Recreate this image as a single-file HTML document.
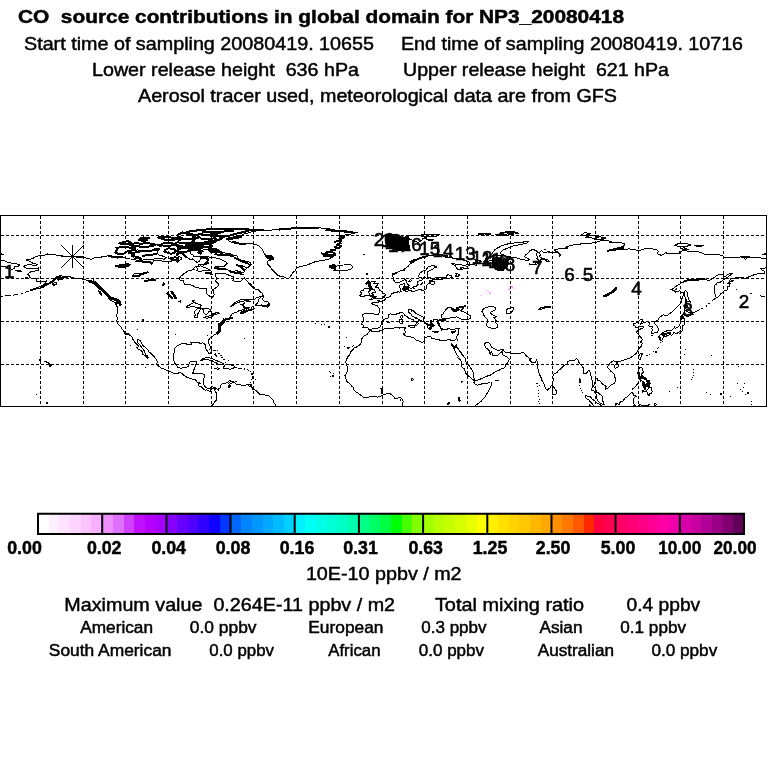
<!DOCTYPE html>
<html><head><meta charset="utf-8"><title>CO source contributions</title>
<style>
html,body{margin:0;padding:0;background:#fff;}
body{width:768px;height:768px;overflow:hidden;font-family:"Liberation Sans",sans-serif;}
svg{display:block;position:absolute;left:0;top:0;will-change:transform;}
text{font-family:"Liberation Sans",sans-serif;fill:#000;white-space:pre;stroke:#000;stroke-width:0.45px;}
.t1{font-size:17.6px;font-weight:bold;}
.r18{font-size:17.9px;}
.r15{font-size:15.6px;}
.b15{font-size:17.8px;font-weight:bold;}
.ml{font-size:17.6px;stroke-width:0.55px;}
</style></head><body>
<svg width="768" height="768" viewBox="0 0 768 768">
<rect width="768" height="768" fill="#fff"/>
<g id="titles">
<text x="18" y="23" class="t1" textLength="606" lengthAdjust="spacingAndGlyphs" xml:space="preserve">CO  source contributions in global domain for NP3_20080418</text>
<text x="24" y="50" class="r18" textLength="350" lengthAdjust="spacingAndGlyphs">Start time of sampling 20080419. 10655</text>
<text x="401" y="50" class="r18" textLength="342" lengthAdjust="spacingAndGlyphs">End time of sampling 20080419. 10716</text>
<text x="92" y="76" class="r18" textLength="267" lengthAdjust="spacingAndGlyphs" xml:space="preserve">Lower release height  636 hPa</text>
<text x="403" y="76" class="r18" textLength="266" lengthAdjust="spacingAndGlyphs" xml:space="preserve">Upper release height  621 hPa</text>
<text x="138" y="102" class="r18" textLength="479" lengthAdjust="spacingAndGlyphs">Aerosol tracer used, meteorological data are from GFS</text>
</g>
<defs><clipPath id="mc"><rect x="0.5" y="215.5" width="766" height="190.5"/></clipPath></defs>
<g id="map">
<g stroke="#000" stroke-width="1" stroke-dasharray="3 2" shape-rendering="crispEdges" fill="none">
<line x1="40.5" y1="216" x2="40.5" y2="406"/>
<line x1="83.5" y1="216" x2="83.5" y2="406"/>
<line x1="125.5" y1="216" x2="125.5" y2="406"/>
<line x1="168.5" y1="216" x2="168.5" y2="406"/>
<line x1="211.5" y1="216" x2="211.5" y2="406"/>
<line x1="253.5" y1="216" x2="253.5" y2="406"/>
<line x1="296.5" y1="216" x2="296.5" y2="406"/>
<line x1="339.5" y1="216" x2="339.5" y2="406"/>
<line x1="382.5" y1="216" x2="382.5" y2="406"/>
<line x1="424.5" y1="216" x2="424.5" y2="406"/>
<line x1="467.5" y1="216" x2="467.5" y2="406"/>
<line x1="510.5" y1="216" x2="510.5" y2="406"/>
<line x1="552.5" y1="216" x2="552.5" y2="406"/>
<line x1="595.5" y1="216" x2="595.5" y2="406"/>
<line x1="638.5" y1="216" x2="638.5" y2="406"/>
<line x1="680.5" y1="216" x2="680.5" y2="406"/>
<line x1="723.5" y1="216" x2="723.5" y2="406"/>
<line x1="1" y1="364.5" x2="766" y2="364.5"/>
<line x1="1" y1="321.5" x2="766" y2="321.5"/>
<line x1="1" y1="278.5" x2="766" y2="278.5"/>
<line x1="1" y1="235.5" x2="766" y2="235.5"/>
</g>
<g clip-path="url(#mc)">
<path d="M49.1 364.1L51.2 364.7L51.2 366.0L49.5 366.2ZM603.3 296.7L605.6 296.9L609.3 294.5L613.5 292.4L616.5 289.1L616.3 287.2L614.0 289.3L611.2 292.1L607.1 294.1L603.3 296.2ZM386.0 234.5L393.0 234.0L398.0 237.0L408.5 238.0L409.5 250.5L398.0 251.0L391.0 248.0L386.0 245.5ZM492.0 258.5L498.0 257.5L503.0 260.0L505.0 262.0L505.0 268.0L503.0 270.5L497.0 270.0L492.0 266.5ZM118.5 266.9L123.8 267.4L128.1 266.1L130.4 264.4L127.0 263.5L122.7 264.8L119.5 265.0L115.7 266.1ZM402.9 289.1L403.8 287.6L405.5 286.5L408.5 286.8L409.1 288.1L408.0 289.6L405.5 290.0L403.3 290.0Z" fill="#000" stroke="#000" stroke-width="1" stroke-linejoin="round" shape-rendering="crispEdges"/>
<path d="M211.1 408.7L211.3 405.9L213.4 404.4L214.5 402.2L216.6 400.1L217.0 397.9L216.6 395.8L216.8 393.6L215.8 392.1L214.7 390.4L215.1 389.5L213.8 388.4L212.3 388.3L210.9 389.7L210.4 391.9L209.1 391.2L207.7 390.6L206.6 389.9L205.1 390.2L204.2 389.5L203.4 389.3L202.3 387.4L201.3 386.9L200.4 386.9L198.9 385.8L198.9 384.1L197.4 382.4L195.7 380.0L195.1 379.2L193.1 379.2L190.4 378.5L187.8 377.7L185.2 376.4L182.5 374.0L180.3 372.7L178.8 372.9L176.1 373.8L173.3 373.1L170.7 371.8L168.6 371.0L165.4 369.7L163.9 368.8L161.1 368.0L159.0 366.5L156.9 364.7L156.4 363.7L157.3 363.0L157.3 361.3L156.2 359.1L154.7 357.4L152.6 355.0L150.9 353.3L149.0 352.2L148.5 350.3L146.6 348.8L145.3 347.5L142.8 345.3L141.3 343.2L140.6 340.8L138.7 339.7L137.0 339.1L137.2 340.8L137.4 342.5L139.6 344.5L140.9 346.2L142.4 348.4L144.1 350.5L144.7 352.7L146.0 354.8L146.6 355.5L147.7 356.1L148.5 357.6L147.5 358.3L146.6 357.0L144.1 355.0L142.6 354.2L142.6 352.0L140.4 350.1L138.1 349.2L136.6 347.7L138.3 346.9L138.3 345.8L136.6 344.1L134.9 342.3L134.2 341.0L133.0 339.5L132.1 337.6L131.7 336.3L129.3 334.8L129.1 334.4L127.4 333.9L124.9 333.3L124.4 331.8L121.9 329.0L121.7 327.9L120.6 326.8L120.6 326.2L119.5 325.7L118.0 323.8L117.8 321.9L116.5 320.6L117.2 319.3L117.0 317.1L116.3 315.4L117.2 313.5L117.4 310.7L117.6 308.1L117.2 307.0L115.9 303.3L118.5 304.0L120.2 304.0L120.8 305.7L121.0 304.2L119.9 302.1L119.1 301.4L117.4 300.5L115.7 299.9L114.2 299.0L111.0 298.2L109.3 296.7L109.1 294.9L107.1 293.0L104.6 291.3L103.7 290.0L102.4 288.5L100.3 287.0L99.2 285.3L97.1 283.3L95.0 282.0L93.3 279.9L92.8 281.4L90.7 282.0L87.7 280.7L83.9 279.4L81.1 278.6L77.9 278.4L74.7 278.4L72.6 277.5L71.1 277.3L69.4 276.2L66.2 276.2L65.5 277.7L63.2 278.1L62.8 279.0L58.1 280.1L58.9 279.2L58.1 277.7L59.1 276.9L61.9 275.8L60.4 275.6L58.3 276.6L56.4 277.9L54.9 279.4L52.9 280.3L54.0 281.4L52.5 282.5L50.2 283.5L47.8 284.8L45.3 285.9L43.3 287.2L39.5 288.1L36.7 288.9L33.7 289.6L30.3 290.2L34.2 288.7L37.4 287.4L39.5 287.0L42.7 285.3L44.8 283.7L45.9 282.0L47.0 280.9L44.8 281.4L43.1 281.8L41.0 280.9L38.4 281.4L36.1 281.4L36.7 280.3L36.3 278.8L35.2 278.4L32.0 278.6L29.9 277.3L29.5 275.8L27.8 274.9L28.6 273.4L30.3 272.5L30.3 271.7L33.1 271.5L35.7 270.8L38.4 270.6L38.9 269.3L38.0 268.7L38.4 267.8L35.2 268.9L32.0 268.5L29.0 268.7L26.7 268.2L23.3 266.3L26.7 265.0L31.0 264.4L32.5 265.2L36.7 265.2L37.4 264.4L35.0 263.5L32.7 263.1L31.0 261.8L27.8 260.5L26.0 260.4L27.3 259.2L31.0 259.0L33.7 257.9L36.3 256.4L40.6 255.5L44.8 255.1L47.8 253.9L51.2 254.5L55.5 254.9L57.6 255.5L60.8 255.7L65.1 256.2L70.4 256.4L74.7 256.8L81.1 257.7L85.4 257.7L89.6 259.0L91.8 259.2L93.9 258.1L96.0 257.7L99.2 257.5L102.4 256.8L105.6 256.6L108.8 255.5L111.0 256.4L113.1 257.7L115.2 256.4L116.3 256.8L117.4 258.1L120.6 257.3L124.9 257.9L130.2 259.0L134.5 259.2L136.6 260.3L138.7 260.5L136.6 261.3L140.9 261.8L147.3 261.3L150.5 262.0L151.5 264.4L153.0 262.2L153.7 260.7L157.9 260.1L162.2 261.1L165.4 261.8L170.7 261.6L172.9 260.1L176.1 260.7L177.1 262.4L178.6 260.7L181.4 259.4L181.4 257.9L177.1 255.7L176.1 254.0L179.3 252.7L180.3 252.5L183.5 253.6L185.7 255.7L186.7 257.5L188.9 258.5L190.4 259.8L193.1 258.8L194.2 260.1L197.0 262.4L199.5 261.1L200.6 259.0L200.0 257.3L202.7 257.0L207.0 257.3L208.5 258.5L207.4 260.1L207.0 261.6L208.5 262.2L208.1 263.3L204.9 264.8L201.7 265.0L198.5 264.4L198.5 265.4L197.4 266.5L195.3 266.9L193.1 268.7L194.2 269.7L189.9 270.2L188.2 271.0L185.7 272.5L183.5 274.1L181.4 275.8L179.9 277.7L179.7 279.4L181.0 280.9L183.5 280.9L184.2 283.3L185.0 284.8L188.2 284.4L192.1 285.3L195.3 287.0L199.5 288.1L202.7 288.5L206.4 288.9L206.6 291.3L206.4 293.4L208.5 295.2L210.2 296.9L212.3 297.3L213.8 296.0L214.3 294.3L213.4 292.4L213.4 290.6L212.1 289.8L214.5 288.7L217.3 287.0L218.5 284.8L217.7 282.7L214.9 280.9L216.6 279.2L216.0 277.1L215.5 275.1L216.0 273.2L219.8 273.4L223.0 273.6L226.2 274.1L228.4 274.9L230.5 276.0L233.0 276.4L233.7 278.4L232.6 280.5L234.1 280.9L236.2 281.8L239.0 281.8L241.2 280.9L242.2 279.4L244.1 277.7L245.0 279.0L246.9 280.9L249.1 283.1L250.8 285.5L252.9 287.4L255.0 288.9L258.2 289.8L259.7 291.1L261.0 292.4L262.9 293.9L263.1 295.6L261.0 296.7L257.2 297.3L255.0 299.0L250.8 299.7L246.5 299.3L242.2 299.5L239.2 300.3L236.9 301.6L234.8 302.9L233.0 304.2L231.6 305.7L230.1 306.8L232.0 306.1L234.1 304.4L236.9 302.9L240.1 301.8L243.3 301.6L244.8 302.5L244.4 303.6L242.2 304.2L240.3 304.2L241.8 305.1L243.7 305.1L243.3 306.4L244.1 307.9L246.1 308.7L248.6 309.2L250.8 309.2L251.8 307.4L252.9 306.4L253.3 307.9L254.2 308.7L251.8 310.0L248.6 310.9L246.3 311.5L244.4 312.8L242.2 313.9L240.9 313.3L241.2 311.7L243.3 310.7L244.8 310.0L243.9 309.2L242.2 310.0L240.7 310.2L239.0 310.5L238.6 311.5L236.2 312.2L234.8 312.8L232.6 313.5L231.3 314.8L230.9 315.8L230.5 316.5L231.3 317.3L232.6 317.6L232.2 317.0L232.6 317.9L231.1 318.0L229.8 318.2L228.4 318.6L226.2 318.9L224.7 319.5L227.3 319.5L228.4 319.2L226.6 319.9L224.1 320.1L224.1 320.8L223.9 322.1L222.8 323.2L222.2 323.8L221.1 322.7L220.9 322.1L221.7 324.2L221.7 325.1L221.1 326.2L220.0 327.5L219.8 326.0L219.4 324.0L219.0 322.9L218.7 324.7L219.2 326.6L219.2 327.9L219.8 328.1L220.2 329.6L220.9 331.6L219.8 332.2L218.3 332.9L216.6 333.7L215.5 334.6L213.8 335.0L212.8 336.3L211.3 337.4L209.6 338.5L208.7 340.0L208.1 341.5L208.5 343.2L209.4 345.1L210.2 346.4L210.4 348.1L211.3 349.9L211.1 352.0L210.4 353.3L208.9 353.5L207.7 351.8L206.8 350.1L205.5 348.1L205.3 346.2L205.5 344.9L204.0 343.6L202.7 342.8L201.9 343.2L200.0 343.6L199.1 342.5L197.4 342.1L195.3 342.3L193.8 342.1L192.1 342.1L190.8 342.5L191.2 343.4L191.9 344.9L190.8 344.5L189.3 344.9L187.8 344.7L186.1 343.8L184.4 343.8L181.8 343.6L179.9 344.3L178.6 345.3L176.5 346.4L175.0 347.7L174.1 349.0L174.6 351.6L173.7 353.8L173.3 355.9L173.3 358.7L173.9 360.6L174.6 362.8L176.1 365.0L176.9 366.2L177.6 367.1L179.3 367.5L180.3 368.4L182.5 368.0L184.6 367.5L186.1 367.5L187.8 366.7L188.9 365.0L189.1 362.8L189.9 361.9L192.1 361.5L194.2 361.1L196.3 361.3L196.8 361.9L196.3 363.4L195.3 365.0L195.3 366.7L194.6 368.2L193.8 369.9L193.6 372.1L192.3 373.4L193.8 373.8L195.3 373.6L197.4 373.6L198.9 373.1L200.6 373.4L202.3 373.6L204.0 374.6L204.5 375.5L204.2 377.4L203.8 379.6L203.6 381.8L203.2 383.5L203.6 384.3L204.2 385.6L205.5 386.9L206.6 388.0L208.1 388.6L209.6 388.4L211.3 387.6L212.3 386.9L213.8 387.4L215.5 387.8L216.8 389.1L217.9 389.3L218.1 390.6L218.3 389.1L219.2 388.4L220.5 387.4L220.7 385.6L221.3 384.6L222.4 383.8L223.7 383.3L225.6 383.3L227.7 382.2L229.0 380.9L230.3 380.9L229.8 382.2L228.6 383.5L229.0 384.3L229.8 384.1L231.6 383.3L232.2 382.6L232.0 381.5L233.0 381.3L233.5 382.8L235.2 383.0L236.2 384.1L236.7 385.0L239.0 384.8L240.9 384.8L243.1 385.8L244.8 385.2L247.6 384.6L249.9 384.6L248.4 385.4L249.1 386.3L250.8 386.5L252.3 387.6L252.5 389.3L254.4 389.7L256.1 390.6L257.4 392.1L259.3 393.8L260.4 394.9L262.9 394.9L264.8 394.9L266.8 395.3L268.9 396.0L270.4 397.3L271.9 398.6L273.0 400.3L273.8 402.6L275.5 404.4L275.3 405.9L274.2 408.7M251.2 264.1L249.7 262.2L245.4 261.1L240.1 260.1L236.9 257.9L238.0 256.4L233.7 255.1L229.4 253.6L224.1 252.9L219.8 251.4L215.5 250.6L210.2 248.9L208.1 249.9L202.7 248.9L198.5 248.6L192.1 248.4L189.9 249.9L191.0 251.9L190.6 253.8L193.1 254.9L193.1 256.4L196.3 256.8L198.9 256.4L201.7 256.8L207.0 256.8L212.3 257.3L215.5 257.9L219.8 259.0L223.0 260.5L226.2 262.2L227.3 263.3L225.2 265.4L224.1 266.9L216.6 266.9L214.5 268.5L218.7 269.3L223.0 268.7L226.2 269.3L229.4 270.8L232.6 272.3L236.9 273.4L241.2 274.3L243.3 274.9L240.1 272.3L235.8 270.4L239.0 271.5L243.3 272.8L244.4 271.3L242.2 268.7L238.0 265.9L236.9 264.8L241.2 265.4L245.4 267.2L246.9 268.2L249.7 266.1L251.2 264.1ZM196.3 267.2L200.6 265.9L202.7 266.9L207.0 268.5L210.6 270.4L208.1 271.0L203.8 270.4L200.6 271.5L196.3 270.6L197.8 269.1L196.3 267.2ZM204.9 272.1L207.0 272.3L211.3 273.0L205.9 273.6L204.9 272.1ZM210.2 273.2L212.3 274.1L211.3 274.9L210.2 273.2ZM131.3 255.5L134.5 258.3L138.7 258.5L140.9 260.1L147.3 259.8L153.7 259.0L157.9 258.5L164.3 259.2L166.5 257.7L163.3 256.2L159.0 255.1L157.9 253.6L157.9 251.2L153.7 249.9L151.5 251.0L148.3 250.8L143.0 251.7L137.7 249.9L132.3 250.8L130.2 251.9L128.1 253.4L131.3 254.0L134.5 254.0L131.3 255.5ZM115.2 252.5L118.5 254.0L123.8 253.6L127.0 251.4L134.5 249.7L135.5 248.2L130.2 247.6L122.7 247.1L116.3 247.8L117.4 249.7L115.2 252.5ZM164.3 251.4L170.7 253.8L173.9 253.2L176.1 251.0L173.9 249.3L168.6 248.2L165.4 249.7L164.3 251.4ZM178.2 252.1L182.5 252.5L188.9 251.0L189.9 248.6L183.5 248.0L178.2 248.9L178.2 252.1ZM169.7 258.5L173.9 260.1L178.2 259.6L178.2 257.9L175.0 257.3L169.7 258.5ZM131.3 245.6L136.6 246.3L145.1 246.9L152.6 246.1L155.8 244.8L151.5 243.7L147.3 243.0L140.9 243.7L134.5 243.0L131.3 245.6ZM160.1 245.2L167.5 246.1L173.9 245.0L171.8 242.6L164.3 242.6L160.1 245.2ZM119.5 243.5L127.0 244.3L131.3 243.0L128.1 241.1L122.7 242.2L119.5 243.5ZM176.1 245.6L181.4 246.9L186.7 246.7L194.2 247.1L202.7 247.1L210.2 246.9L212.3 245.6L209.1 244.5L202.7 244.3L194.2 244.8L189.9 243.9L185.7 242.8L177.1 242.4L175.0 243.9L176.1 245.6ZM189.9 243.0L198.5 243.0L209.1 243.2L215.5 242.2L212.3 240.9L218.7 239.8L222.0 238.3L219.8 236.8L228.4 235.9L232.6 234.6L239.0 233.1L244.4 231.8L249.7 230.3L247.6 229.0L236.9 228.8L222.0 228.6L211.3 229.0L198.5 230.3L189.9 231.2L186.7 232.5L192.1 234.2L198.5 235.9L198.5 237.6L193.1 239.2L194.2 240.7L189.9 243.0ZM177.1 235.3L183.5 239.2L189.9 238.9L195.3 238.1L194.2 236.1L187.8 234.0L182.5 232.5L177.1 235.3ZM157.9 237.4L166.5 240.2L173.9 239.8L178.2 238.7L170.7 237.4L164.3 236.6L157.9 237.4ZM209.1 249.3L213.4 250.8L218.7 250.4L215.5 248.9L209.1 249.3ZM288.1 278.8L283.8 276.9L278.5 275.8L275.3 273.0L272.1 269.7L270.0 266.5L267.4 263.7L267.8 261.1L273.2 259.4L273.2 257.3L265.7 256.2L265.1 254.7L263.6 252.5L262.5 249.3L259.3 246.1L256.1 244.3L249.7 243.7L243.3 243.9L236.9 243.7L232.6 242.8L229.4 241.3L227.3 239.6L226.2 238.5L232.6 237.0L241.2 235.7L243.3 234.2L249.7 232.7L251.8 231.4L264.6 230.3L275.3 229.9L286.0 229.2L296.6 228.0L311.6 227.5L324.4 228.2L335.1 229.9L330.8 231.0L343.6 232.0L356.4 232.0L357.5 232.5L350.0 234.2L343.6 235.3L344.7 237.4L341.5 239.6L341.5 241.7L337.2 243.9L340.4 245.6L338.3 247.6L334.0 249.7L331.9 251.9L335.1 253.6L335.1 255.7L328.6 256.0L332.9 256.8L330.8 258.3L326.5 259.8L320.1 260.7L313.7 262.2L309.4 264.1L304.1 265.9L299.8 266.5L296.6 268.0L295.1 270.8L292.4 273.0L290.9 275.6L289.8 277.7L288.1 278.8ZM333.6 270.2L335.3 269.1L330.8 267.8L335.1 266.7L329.7 266.3L332.9 264.6L336.5 266.3L338.7 265.2L343.6 265.0L347.4 264.4L350.8 264.8L353.0 266.9L351.1 268.9L347.9 270.0L342.5 271.0L338.7 270.8L333.6 270.2ZM255.5 305.1L257.6 302.9L259.3 298.6L260.8 296.9L263.6 296.5L262.5 299.5L264.6 301.4L267.8 301.6L268.9 303.1L269.5 305.3L267.8 307.2L266.3 305.7L264.6 306.6L262.5 305.9L259.3 305.1L255.5 305.1ZM244.4 300.1L248.6 300.8L250.3 301.8L246.5 301.4L244.4 300.1ZM244.6 306.8L247.6 307.7L249.7 307.5L248.0 308.5L244.6 306.8ZM108.0 298.2L112.0 301.0L115.2 302.7L118.7 303.6L117.4 301.4L114.2 299.5L109.9 298.0L108.0 298.2ZM98.2 290.9L99.7 293.0L102.0 295.4L100.7 292.8L101.0 291.3L98.2 290.9ZM52.3 283.7L53.8 285.3L57.0 284.0L56.6 282.0L54.4 282.7L52.3 283.7ZM15.6 270.6L18.6 271.5L21.8 271.5L19.6 270.4L15.6 270.6ZM25.0 277.9L28.4 278.8L27.8 277.5L25.0 277.9ZM30.1 290.0L32.9 290.2L33.3 289.3L30.1 290.0ZM200.8 360.4L202.7 358.7L205.3 357.8L208.5 357.6L211.3 358.3L214.5 359.6L217.3 360.9L220.5 362.2L223.7 364.0L222.0 364.7L216.2 364.8L217.3 363.2L214.5 362.4L212.3 360.9L208.7 360.0L206.6 359.4L204.5 359.8L200.8 360.4ZM223.0 368.0L225.4 364.7L229.0 364.7L232.6 365.2L236.0 367.5L232.6 368.2L230.1 369.5L227.3 368.4L223.0 368.0ZM214.9 368.2L217.7 367.9L219.4 368.8L217.7 369.3L214.9 368.2ZM238.6 368.0L241.8 368.0L241.2 368.9L238.6 368.8L238.6 368.0ZM250.1 384.6L252.0 384.3L251.8 385.8L250.1 385.8L250.1 384.6ZM215.1 353.5L216.0 355.3L216.2 356.3L214.9 354.6L215.1 353.5ZM224.1 320.1L226.6 319.9L228.4 319.2M401.8 408.7L402.3 405.4L402.9 403.3L403.1 401.1L402.3 399.2L401.0 397.9L399.7 397.9L396.9 398.1L394.8 398.3L393.1 396.2L391.6 394.2L389.3 393.8L386.3 394.0L384.6 394.5L382.0 395.5L379.9 396.4L377.7 397.3L375.6 396.6L373.5 396.4L370.3 396.6L367.1 397.7L366.0 398.1L362.8 396.8L360.7 395.1L359.0 394.0L357.5 392.7L355.3 391.7L353.8 389.5L353.6 387.8L352.8 387.1L351.1 385.4L350.0 383.9L347.9 382.2L346.4 380.9L346.1 379.0L345.7 377.0L344.7 375.9L345.9 374.2L346.8 373.1L347.2 371.0L347.9 368.8L347.4 366.2L346.8 365.6L347.2 363.9L345.6 362.8L345.7 361.3L346.8 359.1L347.9 356.6L350.0 354.4L350.4 352.5L351.3 351.2L353.2 349.4L354.3 347.9L357.5 346.6L360.2 344.5L361.3 342.8L361.1 340.4L362.2 338.2L363.9 335.9L365.8 335.2L367.5 334.1L368.8 332.2L369.4 330.5L370.7 330.3L372.4 331.8L375.6 331.6L377.7 332.0L379.9 330.7L382.0 330.3L384.1 329.0L386.3 328.8L388.4 328.3L390.5 328.1L392.7 328.5L394.8 327.9L396.9 327.7L399.1 328.1L401.2 327.5L402.9 327.3L404.0 328.1L405.5 327.7L404.6 329.2L404.6 330.7L405.5 331.8L405.0 333.3L403.6 333.9L403.6 334.6L405.0 335.2L405.9 336.1L407.6 336.7L410.2 336.7L412.3 337.4L414.4 338.0L415.1 339.5L417.2 340.4L419.3 341.0L421.5 342.1L423.0 342.3L424.5 341.0L424.7 339.3L424.7 338.0L426.4 337.2L428.3 336.7L430.7 336.9L431.5 338.0L433.2 338.7L435.4 339.1L435.8 339.7L438.6 339.7L440.7 340.4L443.5 341.0L445.8 340.4L447.7 339.7L449.9 339.7L450.9 340.2L452.8 340.6L455.0 340.2L456.0 338.7L456.7 336.9L457.1 335.9L458.0 334.4L458.6 333.1L458.4 331.1L458.6 329.6L459.3 328.5L457.8 328.8L455.8 328.3L453.9 329.6L451.4 329.8L450.3 329.0L447.5 328.1L447.1 329.4L444.5 329.6L442.4 328.5L440.5 328.5L440.3 327.0L439.6 325.7L438.1 325.1L439.4 324.0L439.0 322.9L437.7 322.5L437.9 321.3L439.0 320.6L440.7 320.8L441.8 320.6L443.9 320.6L445.8 319.9L444.1 319.3L444.3 318.7L446.7 318.9L449.0 318.6L450.9 317.6L453.1 317.1L455.2 317.1L456.9 316.9L458.6 317.8L459.7 318.6L461.6 319.1L463.9 319.3L466.7 319.3L468.4 319.1L470.6 318.2L470.8 316.7L469.7 315.2L467.4 314.1L465.0 312.4L463.1 311.7L461.6 311.1L460.3 310.2L462.0 309.8L463.1 308.5L463.7 307.0L465.7 306.1L463.5 306.1L461.0 306.6L458.8 307.2L457.1 308.1L456.7 309.4L459.7 309.8L457.8 310.5L455.6 311.5L453.7 312.0L453.5 310.7L451.4 309.8L453.5 308.5L452.0 308.3L450.1 307.2L448.2 307.2L446.4 308.9L445.4 310.0L445.2 311.1L443.2 312.4L443.0 314.1L441.5 314.5L441.1 316.1L441.8 317.1L442.2 318.2L443.9 318.7L443.7 319.3L441.8 319.3L440.7 319.4L439.4 320.1L437.9 321.2L439.2 320.0L437.5 320.1L437.3 319.6L435.4 319.5L434.1 319.5L433.2 319.9L433.9 321.2L432.6 321.4L431.9 320.9L431.1 320.4L430.2 320.8L430.7 322.1L431.5 323.2L430.7 323.8L432.1 324.5L433.3 326.5L432.4 326.0L431.1 326.0L431.5 327.0L430.7 326.8L431.3 329.0L430.0 329.0L429.2 327.9L428.3 328.3L427.5 326.6L427.7 325.4L427.0 325.1L426.4 323.8L425.1 322.3L424.5 321.9L423.4 320.6L423.4 318.6L423.6 317.6L422.3 316.5L420.6 315.7L418.7 314.8L417.0 313.9L415.1 312.8L414.4 312.6L413.8 310.9L412.7 310.0L411.7 311.1L410.8 309.6L411.4 309.3L410.0 309.2L408.2 309.8L408.5 310.9L408.2 312.2L408.9 312.7L410.8 313.7L411.9 315.8L413.6 316.9L416.6 317.3L415.9 318.2L418.1 319.1L420.4 320.1L421.5 321.2L421.2 321.9L420.2 321.0L418.7 320.4L417.4 321.4L417.2 322.3L418.5 323.6L417.4 324.2L416.4 325.9L415.4 325.5L415.7 324.5L416.6 323.2L415.5 321.4L414.0 321.0L413.6 320.0L412.3 319.7L411.0 318.9L409.1 318.4L408.0 317.6L406.8 316.5L404.4 315.2L404.0 313.9L402.9 312.7L401.0 312.0L399.5 313.0L397.6 313.5L394.8 314.8L393.3 314.3L392.0 314.1L390.5 313.9L388.8 314.5L388.4 316.1L389.0 316.5L388.6 317.6L386.7 318.4L384.6 319.1L383.7 319.9L382.0 321.4L381.4 322.5L382.4 324.1L380.9 325.1L380.5 326.6L378.6 327.5L377.3 328.5L376.7 328.3L374.5 328.5L372.6 328.5L370.9 329.4L370.6 329.8L370.0 330.1L368.6 329.0L368.3 328.1L367.1 327.5L365.1 327.9L362.8 327.9L363.2 325.7L363.0 324.7L361.9 324.2L361.7 324.0L362.2 322.7L363.0 321.0L363.4 319.0L363.0 316.9L362.2 315.2L364.1 314.1L365.1 313.4L368.1 313.8L369.8 313.8L373.9 314.0L375.6 314.2L377.7 314.3L378.7 313.9L379.4 311.4L379.7 309.5L379.5 308.2L378.2 307.4L377.5 306.4L377.3 305.7L376.0 305.3L375.4 305.3L374.7 304.9L372.7 304.6L372.0 304.1L372.2 303.5L371.8 303.5L372.2 302.9L373.5 302.7L375.6 302.5L376.2 303.0L377.7 302.8L378.8 302.8L378.6 302.4L377.9 300.5L379.3 300.5L379.7 301.2L381.4 301.4L382.2 301.0L382.4 300.5L384.3 300.1L385.4 299.5L385.4 298.4L385.9 297.9L387.1 297.6L388.2 297.2L388.8 297.0L389.7 296.9L390.3 296.0L390.7 295.6L392.0 293.5L393.3 293.2L393.5 293.0L395.2 292.6L396.9 292.7L397.2 292.6L397.4 291.9L399.1 291.9L399.5 292.4L400.1 292.1L400.6 291.5L401.2 291.5L401.0 291.1L400.4 290.4L400.6 289.3L400.4 288.9L399.9 288.1L399.3 287.0L399.3 285.7L400.4 284.6L402.5 284.2L404.6 283.2L404.4 284.0L404.2 285.0L404.0 285.7L405.3 286.0L403.8 286.7L403.3 287.6L402.9 288.1L402.3 288.1L402.7 289.1L402.2 289.6L403.3 290.2L403.7 290.5L405.0 290.5L405.7 290.4L405.3 291.4L406.5 291.3L407.8 291.0L408.7 290.3L411.0 290.0L411.4 291.1L412.5 291.5L415.1 291.0L417.2 290.2L419.3 289.7L421.3 289.6L421.9 290.4L423.6 290.4L424.7 289.8L424.5 289.2L425.7 289.1L427.0 287.6L426.8 285.9L427.0 284.8L427.9 284.0L430.2 283.2L431.5 284.2L433.2 284.8L434.1 284.2L434.1 282.9L434.3 281.8L432.6 281.8L432.1 280.9L431.9 280.1L434.7 279.5L437.1 279.2L439.2 279.4L441.8 279.5L442.6 279.0L443.9 278.5L446.4 278.6L445.6 278.0L443.9 277.5L443.2 276.9L441.3 277.3L439.4 277.4L437.1 277.6L435.2 278.0L433.2 278.4L431.1 278.7L430.7 277.9L429.4 277.5L427.7 277.1L427.5 275.8L428.1 275.0L427.5 273.2L427.9 271.7L429.6 270.8L431.1 270.0L433.2 268.9L434.5 267.8L436.2 267.6L436.0 266.5L434.5 266.0L433.4 265.9L431.3 266.0L429.4 266.4L427.9 266.9L427.2 268.2L425.5 270.4L423.2 271.0L422.1 271.4L420.4 272.8L419.1 273.2L419.1 274.7L418.7 276.2L418.7 276.9L420.0 277.1L421.5 277.7L422.3 278.6L422.3 279.7L420.4 280.7L418.7 281.2L417.9 281.4L417.6 283.2L417.2 284.3L417.0 285.6L416.1 286.5L415.3 286.7L413.6 286.7L412.5 287.9L411.4 288.3L410.2 288.4L409.7 287.8L409.1 286.9L408.6 286.3L409.4 285.6L408.0 284.6L407.4 283.3L406.3 282.0L405.9 280.7L406.1 280.3L404.7 279.5L404.8 278.6L404.2 279.2L404.2 280.1L403.3 280.5L402.1 280.8L400.8 281.7L399.1 282.5L397.0 282.7L395.9 282.5L394.8 281.7L394.0 280.6L393.1 279.9L393.2 279.7L393.1 278.6L393.1 277.5L392.5 276.2L392.7 274.9L392.9 273.6L395.0 273.0L397.2 272.3L398.4 271.7L400.4 271.0L402.5 270.5L404.2 270.9L405.3 270.0L403.3 269.7L404.6 268.7L405.9 267.9L408.0 266.5L408.9 265.4L409.7 264.4L411.0 263.5L412.7 262.6L414.0 261.6L415.5 260.9L417.2 260.1L417.2 259.4L418.7 258.5L420.4 257.9L422.4 257.6L424.7 256.8L426.8 256.4L428.9 255.7L432.6 255.4L434.7 254.7L437.1 254.3L438.6 254.9L440.3 254.6L441.1 254.5L442.8 255.1L442.8 255.7L445.0 255.3L446.7 255.5L448.4 256.0L446.2 256.6L443.5 256.5L445.4 257.1L446.0 257.4L447.9 257.3L449.9 257.3L451.4 256.9L452.4 257.3L451.4 257.9L453.5 258.3L455.6 258.4L457.8 258.5L459.9 259.1L463.1 260.1L466.3 260.9L468.4 261.8L469.9 262.9L469.9 263.9L468.4 264.6L466.3 265.0L464.2 265.3L461.0 264.9L457.8 264.6L455.6 264.1L453.5 263.7L451.1 263.0L452.4 264.1L453.9 265.0L455.6 265.9L456.3 267.7L456.3 268.7L457.8 269.1L459.9 269.9L463.1 270.0L462.0 268.9L460.1 268.0L461.0 267.4L463.5 268.0L466.3 268.5L468.4 268.6L467.4 267.6L466.9 266.3L469.1 265.4L471.6 264.6L473.8 264.6L476.3 265.4L476.5 264.4L475.9 263.3L475.5 262.0L476.3 260.7L474.4 259.7L477.0 260.1L480.0 260.3L481.2 261.6L479.1 261.8L478.2 262.9L481.2 263.5L483.8 263.5L484.4 262.0L488.7 261.1L491.9 260.1L495.1 259.2L497.2 260.5L498.9 260.9L501.5 259.8L504.7 259.6L507.9 260.3L511.1 259.2L510.5 257.7L511.7 257.1L514.3 257.5L519.6 258.5L520.7 259.4L523.9 259.8L525.0 260.1L527.8 260.5L529.2 259.2L526.7 257.9L524.6 256.8L525.4 255.1L527.8 253.6L529.2 251.4L530.3 250.4L533.5 249.7L536.7 250.8L537.4 252.5L536.1 254.7L537.4 256.8L536.9 259.0L538.8 260.1L538.2 261.6L535.6 263.5L534.6 264.4L531.4 264.6L529.2 263.9L533.5 264.8L536.7 264.1L539.5 262.6L539.9 260.5L541.0 259.2L544.2 259.2L547.4 261.8L549.5 262.0L548.5 260.5L546.3 259.2L542.0 258.3L539.5 256.4L540.6 254.7L538.8 252.9L541.6 250.8L543.1 252.1L546.3 252.1L549.5 251.7L548.0 252.7L550.6 252.9L552.7 252.1L554.9 252.9L558.1 252.9L559.1 254.2L559.8 256.0L559.1 256.8L560.2 255.7L560.4 254.2L558.1 252.1L554.4 250.6L554.2 249.3L559.1 248.9L563.4 248.6L567.0 248.4L567.7 247.3L565.5 247.1L568.7 246.1L571.9 245.2L576.2 244.5L581.5 243.9L586.9 243.7L592.2 243.0L595.4 242.8L597.5 241.7L601.8 240.4L604.6 240.2L608.2 240.9L611.4 241.7L609.3 242.8L612.5 242.4L618.9 242.4L624.2 243.5L624.8 245.0L622.1 246.5L618.9 248.2L614.6 248.6L610.3 249.9L608.2 250.6L613.5 249.5L616.7 248.9L622.1 248.9L624.2 249.5L628.5 248.9L633.8 249.3L635.9 250.1L640.2 250.4L644.5 248.9L646.6 248.9L650.9 248.4L654.1 249.3L657.3 250.1L658.4 251.4L656.9 252.9L658.4 254.2L659.4 254.7L661.6 255.3L664.8 253.6L665.4 252.6L668.0 253.6L672.2 253.4L675.4 254.0L678.6 253.6L680.8 252.1L679.7 251.4L682.9 250.8L687.2 251.0L693.6 251.9L698.9 251.9L702.1 253.2L703.2 253.8L706.4 254.7L709.6 254.9L713.8 254.5L718.1 254.7L722.4 255.5L724.5 257.5L726.6 257.9L728.8 257.5L732.0 257.5L737.3 257.9L740.5 256.8L744.8 257.0L744.8 259.0L745.8 259.4L746.9 257.9L745.8 256.6L751.2 257.3L757.6 257.5L761.9 258.1L768.3 259.4M-4.3 259.2L2.1 260.1L6.4 261.6L8.6 262.6L11.8 263.1L16.0 263.5L18.2 264.4L19.9 265.2L18.2 266.3L15.0 266.5L14.3 268.9L11.8 269.1L7.5 268.0L5.3 266.7L1.1 266.5L-1.1 265.2L-4.3 267.2M768.3 267.2L764.0 268.2L760.8 268.1L760.8 269.1L763.6 270.8L764.6 272.1L764.2 273.4L760.8 273.0L755.5 274.3L750.1 276.2L745.8 278.4L740.5 277.3L736.2 277.7L734.1 278.6L730.9 278.8L729.8 280.5L729.4 282.2L727.7 283.3L730.3 283.1L729.2 284.4L729.8 286.5L727.7 286.8L727.3 288.7L727.7 289.8L724.5 290.4L723.4 292.1L720.7 293.7L719.8 295.6L716.4 298.0L715.3 296.0L714.9 293.4L714.1 290.2L714.1 287.4L714.9 284.8L716.4 284.6L717.0 283.1L719.8 282.5L723.0 280.1L726.6 277.7L727.5 277.5L730.5 274.9L733.3 273.0L729.8 273.4L727.7 274.7L724.5 276.9L723.4 274.5L721.3 274.5L717.0 275.1L716.0 276.0L712.8 278.6L711.3 279.7L708.5 280.3L703.8 279.4L700.0 279.4L697.8 279.9L693.6 279.9L688.2 279.9L684.0 281.6L680.8 283.3L677.6 285.3L674.4 287.6L672.2 289.3L670.7 289.8L672.2 290.0L674.4 290.9L675.4 292.1L677.6 291.5L679.7 290.9L681.4 292.4L683.5 292.8L683.3 293.9L683.5 295.2L682.5 296.7L681.8 299.3L681.6 302.1L679.7 304.2L677.6 306.4L675.4 308.7L672.9 311.1L670.7 313.0L668.0 315.0L665.8 315.6L663.5 314.8L662.2 315.4L660.7 316.5L659.0 318.0L658.8 319.5L656.2 321.2L654.3 321.9L654.1 323.2L655.8 324.5L657.3 326.4L658.1 327.9L658.4 330.1L658.1 331.1L657.5 332.0L655.8 332.4L654.1 332.9L652.2 333.5L651.5 333.1L651.7 332.6L652.0 330.9L652.2 329.0L651.5 328.3L652.4 327.5L652.2 326.8L651.1 326.2L649.4 326.4L648.8 325.3L649.4 324.2L649.2 322.7L648.1 322.3L647.3 321.7L645.5 322.1L643.2 322.9L641.5 323.8L640.6 324.1L641.5 322.7L642.6 320.8L642.8 319.9L641.3 319.5L640.2 319.7L639.1 321.0L637.7 321.7L635.9 323.2L633.8 323.2L633.2 323.6L633.2 324.9L634.9 325.7L635.9 326.4L635.9 327.5L637.7 327.5L639.6 326.2L641.3 326.8L643.6 327.0L643.0 328.1L640.9 328.8L639.6 329.4L638.7 329.9L637.2 331.3L636.4 332.2L636.6 332.9L638.5 333.9L639.8 336.1L641.3 337.8L642.1 339.3L641.9 340.8L640.2 341.7L640.0 342.3L641.9 343.0L642.3 343.4L641.9 344.7L641.5 346.2L640.2 347.5L638.7 349.0L637.7 350.5L637.2 351.6L636.2 353.1L635.3 354.2L634.0 355.0L632.5 356.3L631.0 357.4L628.5 358.7L626.3 359.1L625.7 359.6L624.4 359.8L623.1 360.2L621.0 360.9L618.9 361.5L617.6 361.9L617.8 363.7L616.5 363.9L616.3 361.7L615.0 361.3L613.5 360.9L612.5 361.3L611.0 362.4L609.9 363.0L609.3 364.1L608.0 366.0L607.6 367.3L609.3 369.3L610.8 371.2L611.8 372.1L612.9 372.9L614.4 374.6L615.0 377.4L615.0 377.9L615.5 380.0L615.0 382.0L614.2 383.3L612.5 384.6L610.8 385.2L609.7 386.3L608.6 387.6L606.9 388.6L605.6 389.1L605.6 387.1L606.3 386.1L605.0 385.2L603.1 384.8L602.0 383.5L601.6 382.2L600.3 381.3L599.0 380.2L597.3 380.2L597.3 378.7L596.5 378.5L595.4 379.0L595.4 380.9L595.0 382.4L594.3 384.1L593.9 385.2L593.9 387.1L594.5 387.8L595.2 387.8L595.4 389.3L596.0 390.6L596.7 392.1L598.2 392.7L599.9 394.2L601.8 395.8L602.7 397.3L602.7 399.4L602.9 401.4L603.7 402.9L604.4 404.6L603.5 404.8L602.7 404.6L601.2 403.5L600.1 402.9L598.4 401.6L598.2 401.1L597.1 399.2L596.7 397.7L596.3 396.0L596.0 394.2L595.2 393.2L594.8 392.1L593.7 390.8L593.1 390.4L591.8 390.6L591.8 389.5L592.0 387.6L592.4 386.1L592.4 383.9L592.6 381.8L592.4 380.9L591.8 379.0L591.3 377.4L590.7 375.3L590.3 373.1L590.3 372.1L589.4 371.2L588.8 370.3L587.5 371.8L585.8 373.6L584.1 373.6L583.2 372.9L583.4 371.0L583.7 368.8L582.6 366.7L581.5 365.4L580.2 364.3L579.0 362.6L578.3 361.5L577.9 359.6L576.8 358.7L575.8 359.1L574.7 360.2L573.0 360.6L570.9 360.9L569.8 360.4L568.1 361.3L567.4 362.4L567.4 363.2L567.0 363.9L565.1 365.0L563.8 365.8L563.0 366.7L561.5 368.2L559.8 369.5L557.6 371.2L557.6 372.1L556.3 372.5L555.1 373.6L553.4 374.4L552.9 376.4L553.1 378.5L553.4 379.4L553.1 381.1L552.5 382.8L552.5 385.4L551.2 385.4L550.4 387.1L551.0 387.6L549.3 388.2L548.9 388.6L548.0 389.7L547.5 390.2L546.1 389.3L545.3 387.6L544.6 386.2L543.8 383.5L542.5 381.3L541.6 379.8L541.0 377.4L540.1 375.7L539.5 374.2L538.6 372.1L538.4 371.0L537.8 368.4L537.4 366.8L537.1 365.0L537.4 363.4L537.6 362.2L536.9 360.9L536.9 359.6L536.1 360.2L535.9 361.9L534.6 362.6L533.5 363.0L532.2 362.6L530.5 361.1L529.2 359.6L530.7 359.1L532.0 358.3L530.0 358.5L528.4 357.4L527.5 356.6L526.3 356.1L525.6 355.0L525.0 354.2L524.3 353.3L523.9 352.9L521.8 352.9L519.9 353.3L517.5 353.3L514.9 353.5L513.2 353.5L511.3 353.1L509.0 352.9L506.8 352.5L505.3 352.3L504.3 351.8L503.6 350.1L503.2 349.2L502.1 349.0L500.7 349.9L498.9 350.5L497.2 350.1L495.5 349.4L494.2 348.6L491.9 347.6L490.4 345.2L490.0 344.1L489.1 343.0L487.8 342.8L486.6 342.1L485.7 343.0L484.4 343.2L484.2 344.3L484.6 345.1L485.3 346.2L486.1 347.9L487.8 349.4L489.1 350.7L489.1 352.5L490.4 354.2L490.4 352.7L491.3 351.4L492.1 353.1L492.1 354.6L492.1 355.5L494.0 355.5L496.2 355.7L498.1 354.8L500.0 353.1L501.5 352.0L502.4 350.8L502.4 352.5L502.3 353.5L503.0 355.0L507.1 356.8L508.5 358.7L509.6 359.1L508.5 361.5L507.3 363.2L506.2 363.7L505.1 365.2L505.3 366.9L502.8 368.6L500.4 369.3L499.8 369.9L497.4 371.0L495.3 371.8L493.4 373.1L490.8 374.9L487.6 375.9L486.8 376.4L484.4 377.4L481.2 378.7L478.0 380.0L475.9 380.5L474.8 380.2L474.2 379.0L473.8 376.4L473.5 375.7L473.1 373.8L473.1 372.3L472.7 371.2L471.6 369.3L470.6 367.8L469.5 366.2L468.4 364.7L466.9 363.2L465.5 361.3L465.2 359.6L465.0 358.1L463.1 355.7L461.6 354.0L461.0 352.5L459.7 351.2L458.4 349.2L457.3 347.5L456.3 347.1L456.5 345.6L456.7 344.1L456.0 345.3L455.4 347.1L455.1 347.8L453.9 346.6L452.8 345.3L451.8 343.8L451.5 343.1L451.1 344.1L451.8 345.3L452.8 346.9L453.7 347.9L454.2 349.0L454.6 350.1L455.2 351.4L456.5 353.8L457.5 355.5L458.2 356.1L457.8 357.4L458.0 358.1L459.3 358.9L460.7 360.2L461.4 362.2L461.4 364.1L461.4 365.4L461.8 367.1L463.1 368.2L464.2 368.8L465.0 371.0L465.7 372.5L466.2 374.0L466.9 374.6L468.0 375.7L469.5 376.8L471.0 377.9L472.3 379.0L473.2 379.6L474.2 380.7L474.6 381.8L474.4 382.6L473.1 382.7L474.1 382.6L474.8 383.5L475.9 384.8L478.0 385.1L480.2 384.6L482.3 383.7L484.4 383.5L486.6 383.3L488.7 382.8L490.4 382.0L491.5 382.1L491.7 385.1L490.6 387.1L490.4 387.6L489.1 389.9L488.3 391.4L487.2 393.0L486.4 394.7L485.5 396.1L484.0 398.1L482.3 399.8L480.8 401.6L478.8 403.2L477.0 404.4L475.0 405.9L473.5 407.4L472.7 408.7M369.8 299.8L373.0 299.1L374.5 298.6L376.7 298.6L379.2 298.2L382.6 298.3L385.0 297.4L384.1 296.9L383.1 296.7L385.4 295.6L385.7 294.3L383.1 293.5L382.2 292.4L381.8 291.3L379.4 290.0L378.6 288.1L377.5 287.2L375.2 287.0L376.5 286.3L377.5 284.8L378.2 283.5L374.5 283.3L373.3 283.6L375.4 281.4L371.3 281.4L370.5 282.9L369.6 284.2L369.8 285.7L368.8 285.7L370.0 286.8L370.0 288.5L371.8 288.1L371.5 289.8L374.5 289.3L374.7 290.6L375.8 291.7L375.4 292.8L372.4 292.8L373.0 293.9L373.3 294.9L370.9 295.8L371.5 296.5L375.2 296.9L376.2 296.5L375.0 297.3L372.8 297.5L371.1 299.0L369.8 299.8ZM369.2 295.4L368.3 295.3L366.0 295.5L363.9 296.2L361.1 296.8L360.0 295.4L361.7 294.3L361.5 293.0L360.4 292.4L360.9 290.9L363.9 290.4L363.6 289.1L366.0 288.5L368.8 288.7L370.0 289.8L370.0 290.6L368.8 291.5L369.0 292.8L369.2 295.4ZM378.8 278.6L379.9 277.3L379.2 277.1L378.8 278.6ZM366.4 284.6L368.6 282.0L367.3 282.5L366.4 284.6ZM408.7 325.7L410.8 325.3L415.1 325.2L414.4 327.9L412.5 327.9L408.9 326.6L408.7 325.7ZM399.5 319.5L401.6 318.9L402.9 320.4L402.5 323.2L401.0 323.8L399.9 323.2L399.9 320.8L399.5 319.5ZM400.4 316.3L402.1 315.0L402.3 317.1L401.6 318.4L400.6 317.6L400.4 316.3ZM432.4 331.1L434.3 331.2L438.1 331.6L437.7 332.2L434.7 332.3L432.4 331.6L432.4 331.1ZM450.9 332.1L452.4 331.5L455.7 330.8L454.4 332.1L452.4 333.1L450.9 332.1ZM387.1 322.4L388.6 321.7L389.3 322.3L388.4 322.9L387.1 322.4ZM431.1 323.7L432.4 324.1L434.3 325.5L433.2 325.0L431.7 324.3L431.1 323.7ZM441.3 329.4L442.2 329.2L441.8 330.2L441.3 329.4ZM437.3 323.2L438.6 322.9L438.6 323.6L437.3 323.2ZM405.9 287.6L408.2 286.8L408.9 287.8L407.8 289.1L405.9 288.7L405.9 287.6ZM402.9 288.3L404.4 287.9L405.0 288.7L403.8 289.0L402.9 288.3ZM420.6 284.4L422.3 282.9L422.5 283.5L421.3 284.6L420.6 284.4ZM417.0 286.3L418.5 284.2L417.4 285.9L417.0 286.3ZM428.7 282.0L429.2 281.6L431.5 281.6L430.0 282.2L428.7 282.0ZM429.4 280.7L430.7 280.4L430.9 280.9L429.4 280.7ZM423.8 277.9L425.3 277.5L425.1 278.1L423.8 277.9ZM413.4 288.7L414.2 288.7L413.8 289.1L413.4 288.7ZM366.4 273.8L367.9 273.4L367.5 274.7L366.4 273.8ZM409.5 261.3L412.5 260.5L415.1 259.2L415.1 260.1L411.9 260.9L409.5 261.3ZM418.1 258.5L420.0 257.9L419.3 258.8L418.1 258.5ZM405.5 236.4L410.8 235.8L416.1 235.3L420.4 235.9L426.8 238.1L422.5 238.9L421.5 240.7L418.3 242.4L414.0 241.3L411.2 239.6L406.5 237.9L405.5 236.4ZM420.4 235.1L428.9 234.2L439.6 234.8L435.4 236.6L424.7 236.4L420.4 235.1ZM426.8 239.6L433.2 239.8L430.0 241.1L426.8 239.6ZM504.7 255.5L497.2 255.3L494.0 254.9L491.9 252.9L494.0 250.8L495.1 249.3L499.4 247.1L500.4 246.1L505.8 244.3L512.2 243.2L520.7 242.2L528.2 241.7L527.1 243.2L518.6 244.8L512.2 246.1L507.9 248.2L503.6 249.7L501.5 251.4L500.4 253.6L504.7 255.5ZM506.8 256.4L510.0 256.0L509.0 257.5L506.8 256.4ZM485.5 258.1L488.3 258.3L487.6 259.4L485.5 259.2L485.5 258.1ZM478.0 234.0L486.6 233.3L490.8 234.0L484.4 235.1L478.0 234.0ZM495.1 234.6L505.8 234.2L510.0 233.3L514.3 234.0L505.8 235.3L499.4 235.3L495.1 234.6ZM499.4 233.1L505.8 231.8L514.3 231.8L518.6 233.1L510.0 232.9L499.4 233.1ZM585.8 237.2L591.1 235.1L595.4 235.9L598.6 237.0L594.3 238.1L589.0 237.9L585.8 237.2ZM594.3 239.2L599.7 236.8L606.1 237.9L603.9 239.2L597.5 239.8L594.3 239.2ZM580.5 235.5L584.7 232.7L590.1 233.6L589.0 234.8L580.5 235.5ZM674.4 245.6L678.6 243.5L687.2 243.9L691.4 245.0L687.2 246.1L680.8 246.7L674.4 245.6ZM694.6 245.2L700.0 245.4L703.2 245.8L697.8 246.5L694.6 245.2ZM680.8 248.4L684.0 247.8L688.2 249.3L684.0 249.7L680.8 248.4ZM762.5 254.5L766.1 253.6L768.3 253.8M762.5 254.5L766.1 254.9L768.3 254.9M-4.3 253.8L0.0 253.6L3.2 254.2L0.0 254.9L-4.3 254.9M487.6 327.0L489.3 327.0L491.9 328.5L495.1 328.3L497.2 327.3L497.0 323.8L495.1 322.5L496.2 320.6L494.7 318.9L494.0 317.6L496.8 316.9L494.2 315.6L491.5 314.5L490.4 312.4L491.5 311.5L495.1 310.0L495.1 307.4L493.0 306.4L489.8 306.6L486.6 307.4L484.4 308.1L482.9 309.4L481.7 311.3L483.4 313.3L483.4 315.0L485.5 317.3L487.6 320.1L487.2 322.5L486.4 324.7L487.6 327.0ZM506.8 313.5L509.0 313.7L511.1 312.4L512.6 310.7L513.9 307.9L512.2 307.0L510.0 307.9L507.9 308.5L506.4 310.0L506.4 311.7L506.8 313.5ZM538.8 309.8L541.0 307.7L545.3 306.8L550.6 307.0L549.5 307.9L545.3 307.7L542.0 308.9L539.9 310.0L538.8 309.8ZM603.3 296.5L605.6 296.7L609.3 294.3L613.5 292.1L616.3 289.1L616.1 287.4L614.2 289.6L611.4 292.4L607.1 294.3L603.3 296.5ZM446.4 278.1L449.2 278.4L452.2 277.3L451.4 275.8L447.9 274.7L446.0 276.0L446.4 278.1ZM455.6 276.2L458.2 276.4L459.7 275.1L457.3 273.2L455.6 273.2L456.3 274.9L455.6 276.2ZM408.5 281.6L410.2 281.8L411.9 280.5L410.4 279.7L408.5 281.6ZM185.7 307.0L188.9 307.2L193.1 306.6L196.3 307.4L200.6 307.2L201.3 305.3L198.5 304.2L194.2 302.5L191.0 304.2L185.7 307.0ZM194.6 317.1L197.4 317.6L197.8 313.9L200.0 310.2L200.6 308.9L197.4 308.9L195.3 310.7L194.2 311.7L195.3 314.3L194.6 317.1ZM201.7 308.5L203.8 310.0L204.0 312.8L205.9 314.8L207.7 313.7L208.5 311.1L211.3 311.3L210.2 309.4L207.0 308.3L201.7 308.5ZM204.0 317.6L207.0 318.2L211.3 316.9L213.6 315.4L210.2 315.8L205.9 316.7L204.0 317.6ZM211.7 314.3L215.5 314.3L219.2 313.7L218.7 312.4L215.5 313.0L211.7 314.3ZM170.9 291.5L172.9 294.3L175.2 298.8L176.3 298.2L175.0 295.6L173.3 292.4L170.9 291.5ZM132.3 276.2L136.6 276.4L139.8 275.3L145.1 272.8L148.3 272.5L144.1 274.1L139.2 273.4L134.5 273.2L132.3 276.2ZM118.5 267.2L123.8 267.6L128.1 266.3L130.6 264.4L127.0 263.3L122.7 264.6L119.5 264.8L115.2 266.1L118.5 267.2ZM144.5 281.2L149.4 280.5L154.7 279.7L150.5 279.4L144.5 281.2ZM162.6 285.7L164.8 284.0L163.7 282.7L162.6 285.7ZM198.7 382.0L200.6 383.5L199.3 383.5L198.7 382.0ZM229.2 384.3L230.3 386.1L228.8 387.6L228.4 386.1L229.2 384.3ZM410.8 379.0L412.9 378.5L413.4 380.0L411.9 380.5L410.8 379.0ZM449.6 408.7L451.4 407.0L453.5 406.7L455.0 407.4L455.2 408.7M461.0 381.1L462.2 381.5L461.8 382.6L461.0 381.1ZM457.8 339.1L457.8 340.6M682.7 318.2L684.0 318.4L685.0 321.4L684.2 324.9L682.9 325.3L682.9 327.9L682.0 330.1L682.7 330.7L680.8 331.8L680.3 330.9L679.1 331.8L678.2 332.9L676.9 333.1L674.8 333.1L674.1 332.2L673.7 333.5L672.9 333.9L671.8 335.4L670.3 334.6L670.5 333.1L668.0 332.9L665.8 333.7L664.1 334.4L661.6 334.4L661.3 333.5L663.7 332.2L665.2 331.1L668.0 330.9L670.7 330.9L672.2 330.1L673.7 328.3L674.8 326.8L674.1 327.7L675.4 328.3L677.6 327.3L679.3 325.5L680.5 323.2L680.8 321.4L680.8 319.9L681.4 318.9L682.7 318.2ZM680.8 317.8L681.4 316.5L681.8 315.0L683.7 314.3L684.4 312.2L684.6 309.8L686.1 310.7L688.2 312.2L690.4 312.8L692.1 312.2L691.9 313.7L693.1 314.3L690.4 315.0L687.8 316.9L687.2 316.1L684.8 315.8L682.9 316.3L682.0 316.9L683.1 317.6L680.8 317.8ZM659.4 335.4L661.3 334.6L663.0 335.4L663.5 336.9L662.4 339.7L660.9 340.6L660.1 340.2L659.8 338.2L658.8 336.9L659.0 335.9L659.4 335.4ZM664.1 335.7L665.6 334.4L668.6 333.7L669.4 334.8L668.4 335.9L666.5 335.9L665.6 336.9L664.1 335.7ZM685.0 290.6L686.7 291.3L687.8 293.4L687.8 296.7L688.9 299.9L690.4 302.1L687.2 301.4L686.3 304.2L687.8 306.6L688.2 308.1L686.5 307.2L685.0 308.5L684.8 306.4L685.2 303.8L685.0 301.0L685.5 298.2L684.4 295.6L684.4 292.8L685.0 290.6ZM641.3 353.1L642.3 353.8L641.3 356.1L640.0 360.2L638.5 358.5L638.5 356.3L640.2 353.8L641.3 353.1ZM614.0 366.0L615.2 364.7L618.0 364.3L618.9 365.4L617.8 367.1L615.7 368.4L614.0 367.5L614.0 366.0ZM639.4 367.8L642.1 368.0L642.8 370.3L643.4 372.5L641.5 373.6L641.7 375.5L643.4 376.8L645.1 377.4L646.8 379.6L646.6 380.5L645.1 379.6L643.8 377.9L641.9 377.7L640.2 378.0L639.4 376.8L640.0 375.9L638.7 375.7L638.1 374.0L637.7 372.5L638.9 371.8L638.9 369.9L639.4 367.8ZM638.9 378.5L640.6 378.7L641.3 380.5L640.6 381.3L638.9 378.5ZM632.1 389.5L634.9 387.1L637.0 384.8L637.4 383.3L636.6 385.0L634.2 387.8L632.1 389.5ZM642.3 382.2L644.7 382.8L643.6 385.2L642.3 385.0L642.3 382.2ZM643.2 386.3L644.5 384.1L645.5 384.1L645.1 387.6L644.3 388.2L643.2 386.3ZM645.3 387.1L646.6 383.5L646.6 385.6L645.3 387.1ZM647.3 380.7L649.4 380.7L650.2 383.5L648.8 383.7L648.3 382.8L647.3 380.7ZM647.5 383.0L648.8 383.7L649.2 385.6L648.3 386.1L647.5 383.0ZM646.2 386.3L647.7 385.8L647.7 386.7L646.2 386.3ZM642.1 392.7L642.8 390.6L645.1 389.1L646.2 390.4L648.1 389.1L649.6 386.7L651.3 387.8L652.2 391.9L651.3 394.0L650.0 393.0L649.6 395.5L647.7 394.7L647.0 391.7L645.5 391.2L643.4 391.9L642.1 392.7ZM552.3 386.9L553.1 386.5L555.3 389.1L556.8 391.9L556.3 393.8L554.0 394.9L552.7 394.2L552.3 391.4L552.3 386.9ZM615.9 403.3L616.1 404.4L614.6 407.0L614.6 408.7M615.9 403.3L617.4 403.9L619.3 404.6L619.7 402.4L622.9 400.9L625.1 397.9L627.4 396.8L628.7 395.5L631.0 392.7L632.1 392.5L633.2 393.8L633.0 394.9L636.4 396.2L634.0 397.9L633.0 398.6L633.2 399.8L633.0 401.1L633.8 402.6L633.4 403.7L635.9 405.4L633.8 405.9L632.7 407.4L632.7 408.7M585.4 395.5L587.5 396.2L590.1 396.3L591.8 398.6L593.3 399.8L595.0 401.1L596.3 402.6L598.2 403.3L600.1 404.6L601.8 406.1L603.5 407.4L603.5 408.7M585.4 395.5L585.2 396.6L586.7 399.0L588.6 399.8L590.3 402.0L592.6 403.9L593.5 406.1L594.8 407.6L595.4 408.7M637.7 408.7L637.7 406.5L639.8 404.8L644.3 405.7L647.7 405.2L649.2 404.2L647.7 406.7L645.1 407.0L641.3 406.5L638.7 406.7L638.1 408.7M653.9 408.7L654.1 405.4L654.9 402.9L656.6 404.4L655.2 406.5L656.9 407.0L655.8 408.7M589.2 404.6L590.9 406.3L589.9 404.6L589.2 404.6ZM579.8 378.5L580.5 379.8L580.0 382.6L579.6 380.7L579.8 378.5ZM495.7 380.5L498.3 380.5L497.2 381.1L495.7 380.5ZM730.9 281.4L733.0 280.1L733.3 280.9L730.9 281.4ZM713.2 299.5L715.3 298.4L714.5 299.7L713.2 299.5ZM695.5 311.7L699.5 309.6L697.2 310.9L695.5 311.7ZM651.3 335.9L652.8 335.4L652.2 336.1L651.3 335.9ZM675.0 289.1L677.1 288.9L676.3 289.8L675.0 289.1ZM400.1 399.6L401.0 399.8L400.6 400.7L400.1 399.6ZM44.4 360.9L47.4 362.4L49.9 363.9M29.5 290.9L27.1 291.5L25.0 292.4M23.5 292.6L21.4 293.7M18.2 294.1L15.0 294.7L12.8 295.2M10.7 295.2L7.5 295.6L4.7 296.0M2.6 296.0L0.0 296.7M750.1 293.7L752.2 293.9M760.4 295.8L762.9 296.5L765.1 296.9M735.6 288.5L736.9 289.6M192.1 301.2L194.2 300.1L193.8 301.4L192.1 301.2ZM178.8 301.2L180.8 300.8L180.3 302.1L178.8 301.2ZM362.8 254.9L364.9 254.5M447.3 404.6L449.0 402.6M458.8 397.7L459.3 400.3L460.1 402.0M213.4 350.3L216.0 350.1M216.6 349.7L217.7 350.9M218.3 352.9L219.4 354.0M220.5 354.8L221.3 355.7M221.3 356.8L222.4 358.1M223.4 358.9L224.3 359.8M224.9 362.2L226.2 361.9M227.9 360.6L229.4 360.9M692.7 313.0L694.0 312.0M701.0 308.9L703.2 307.9M705.9 306.8L707.0 305.7M708.5 304.2L709.4 302.9M711.7 301.4L712.8 300.1M692.5 313.5L694.4 312.0M485.5 258.1L488.3 258.3M531.4 249.7L534.6 249.5M544.2 249.9L546.3 249.3M599.7 239.2L603.9 238.7M741.6 257.0L743.7 256.8" fill="none" stroke="#000" stroke-width="1" stroke-linejoin="round" shape-rendering="crispEdges"/>
<path d="M57.6 279.2L60.8 277.7L64.0 277.3L67.2 276.6M54.4 279.4L56.6 277.3L59.8 276.2M40.6 287.4L44.8 285.3L49.1 283.5L52.3 281.6M115.2 252.5L118.5 254.0L123.8 253.6L127.0 251.4L134.5 249.7L135.5 248.2L130.2 247.6L122.7 247.1L116.3 247.8L117.4 249.7L115.2 252.5ZM164.3 251.4L170.7 253.8L173.9 253.2L176.1 251.0L173.9 249.3L168.6 248.2L165.4 249.7L164.3 251.4ZM178.2 252.1L182.5 252.5L188.9 251.0L189.9 248.6L183.5 248.0L178.2 248.9L178.2 252.1ZM169.7 258.5L173.9 260.1L178.2 259.6L178.2 257.9L175.0 257.3L169.7 258.5ZM131.3 245.6L136.6 246.3L145.1 246.9L152.6 246.1L155.8 244.8L151.5 243.7L147.3 243.0L140.9 243.7L134.5 243.0L131.3 245.6ZM160.1 245.2L167.5 246.1L173.9 245.0L171.8 242.6L164.3 242.6L160.1 245.2ZM119.5 243.5L127.0 244.3L131.3 243.0L128.1 241.1L122.7 242.2L119.5 243.5ZM176.1 245.6L181.4 246.9L186.7 246.7L194.2 247.1L202.7 247.1L210.2 246.9L212.3 245.6L209.1 244.5L202.7 244.3L194.2 244.8L189.9 243.9L185.7 242.8L177.1 242.4L175.0 243.9L176.1 245.6ZM189.9 243.0L198.5 243.0L209.1 243.2L215.5 242.2L212.3 240.9L218.7 239.8L222.0 238.3L219.8 236.8L228.4 235.9L232.6 234.6L239.0 233.1L244.4 231.8L249.7 230.3L247.6 229.0L236.9 228.8L222.0 228.6L211.3 229.0L198.5 230.3L189.9 231.2L186.7 232.5L192.1 234.2L198.5 235.9L198.5 237.6L193.1 239.2L194.2 240.7L189.9 243.0ZM177.1 235.3L183.5 239.2L189.9 238.9L195.3 238.1L194.2 236.1L187.8 234.0L182.5 232.5L177.1 235.3ZM157.9 237.4L166.5 240.2L173.9 239.8L178.2 238.7L170.7 237.4L164.3 236.6L157.9 237.4ZM209.1 249.3L213.4 250.8L218.7 250.4L215.5 248.9L209.1 249.3ZM176.1 245.2L181.4 245.8L182.5 246.7L178.2 246.9L176.1 245.2ZM138.7 240.2L145.1 241.1L147.3 239.8L141.9 238.9L138.7 240.2ZM139.8 238.9L147.3 238.9L149.4 237.9L143.0 237.4L139.8 238.9ZM172.9 237.9L179.3 240.0L182.5 239.2L177.1 237.6L172.9 237.9ZM127.0 244.1L131.3 244.8L131.3 243.9L127.0 244.1ZM157.9 245.0L161.1 246.1L161.1 245.0L157.9 245.0ZM154.7 248.9L157.9 250.4L159.0 249.1L154.7 248.9ZM198.5 234.2L207.0 234.8L215.5 234.0L219.8 233.1M202.7 231.8L211.3 232.3L222.0 231.6L232.6 231.0M200.6 238.5L207.0 238.9L215.5 238.3M204.9 241.7L211.3 241.3L215.5 240.7M211.3 236.1L219.8 236.4L224.1 236.8M185.7 244.8L194.2 245.6L202.7 245.4M189.9 249.5L198.5 249.9L202.7 251.2L198.5 252.5L200.6 254.0M209.1 250.4L211.3 252.1L217.7 251.9L222.0 253.2M215.5 254.2L222.0 255.5L228.4 255.1L232.6 256.2M234.8 258.1L239.0 259.8L243.3 262.0L247.6 263.3L249.7 265.0M236.9 265.0L241.2 267.2L244.4 269.7M230.5 271.5L235.8 272.8L241.2 273.6M130.2 252.9L134.5 252.7L140.9 251.2L147.3 251.0L152.6 250.4M132.3 256.0L137.7 257.0L140.9 258.5M143.0 255.7L149.4 255.1L155.8 254.0M177.1 254.2L180.3 252.9L183.5 254.2L185.7 256.4M108.8 255.7L114.2 257.3L117.4 256.8L121.7 257.3M136.6 260.7L143.0 261.6L149.4 261.6L151.5 263.3M200.6 257.9L204.9 257.5L208.1 259.4L207.0 262.2L203.8 264.6M215.5 267.2L219.8 268.9L225.2 268.7M133.4 276.0L138.7 275.8L143.0 273.6L147.3 272.5M145.1 280.9L150.5 280.1L154.7 279.7M171.8 292.1L173.3 294.5L175.4 298.2M167.5 293.4L169.7 295.6L171.8 298.2M265.7 256.4L271.0 256.2L273.2 257.7L271.0 259.0L267.8 258.3M266.8 257.3L270.0 257.5M322.2 253.6L328.6 254.7L334.0 255.5L330.8 256.6L324.4 256.0M326.5 251.9L332.9 252.5L335.1 254.2M335.1 247.1L339.3 248.2L341.5 246.1L337.2 244.8L340.4 243.2M335.1 241.7L341.5 240.7L339.3 238.5L343.6 236.8L339.3 235.3M330.8 249.9L335.1 250.4M236.9 229.2L249.7 229.7L262.5 230.3M279.6 229.5L292.4 228.4L305.2 227.7L318.0 228.0M326.5 229.7L339.3 231.0L352.1 231.8M232.6 241.7L239.0 243.5L245.4 243.7M228.4 239.2L236.9 237.9L241.2 236.8M330.1 266.3L334.0 265.0L336.1 266.5L331.9 267.6L335.1 268.7M411.4 262.4L414.0 261.1L416.1 259.8L419.3 258.3L423.6 257.0L426.8 256.4M393.3 274.3L395.9 273.0M426.8 323.6L427.9 325.1L430.0 325.3L431.7 326.0L431.1 327.9L429.8 328.5M431.5 323.2L432.8 324.5L433.9 325.7M456.7 308.5L459.9 307.2L463.1 306.8L464.8 306.4M452.4 309.2L454.6 310.2L457.8 310.0M608.2 250.6L612.5 249.7L616.7 248.6L621.0 247.6L623.1 246.9L622.7 248.4L616.7 249.3L611.4 250.4M225.2 319.5L228.4 318.9L231.6 317.8M241.2 312.8L244.4 311.7L247.6 310.7L250.8 309.6M243.3 305.3L243.7 307.4L246.5 308.5M261.4 305.1L263.6 306.4L266.8 305.9L268.3 304.6M249.7 283.7L251.8 286.3L254.0 288.3M124.6 333.3L127.4 333.9L129.3 334.6M642.8 381.8L644.5 383.9L645.5 386.1L644.9 387.6M647.0 381.1L648.8 383.3L648.8 385.6M639.8 376.8L641.9 377.7L644.5 378.5M639.1 372.7L638.7 375.3L639.6 376.4M659.0 336.5L660.1 338.0L660.5 340.0M661.6 334.4L664.8 334.1L668.0 333.3L670.1 333.3M681.4 316.1L682.5 316.5L682.9 317.8L681.4 318.2M685.7 306.4L686.3 303.1L685.7 300.3M381.4 388.6L382.0 390.8L382.2 393.4M447.7 404.2L448.8 402.9M458.8 397.9L459.5 400.5M366.6 283.7L368.3 282.0M684.0 281.6L688.2 279.9L693.6 279.9L700.0 279.4L704.2 279.4M741.6 257.3L745.8 257.0L749.0 257.0M372.2 293.7L373.0 294.9L371.3 296.0" fill="none" stroke="#000" stroke-width="2" stroke-linejoin="round" stroke-linecap="square" shape-rendering="crispEdges"/><path d="M90.7 281.6L93.9 282.7L96.0 284.8L98.2 287.0L101.4 289.1L103.5 290.9L105.6 292.8L107.8 294.9L109.3 297.1M217.7 333.1L219.8 330.9L219.4 327.9L220.2 325.7L221.5 323.6L223.4 321.9L224.3 320.1M116.7 302.9L119.5 302.5L120.2 304.6L118.5 300.8L115.2 299.3L111.0 298.0M95.0 282.7L97.1 284.8L99.7 287.0M368.8 282.2L370.0 283.5L369.4 285.3L370.3 287.0L370.9 288.3" fill="none" stroke="#000" stroke-width="3" stroke-linejoin="round" stroke-linecap="square" shape-rendering="crispEdges"/>
<g fill="#000" shape-rendering="crispEdges"><rect x="39" y="359" width="2" height="2"/><rect x="244" y="338" width="1" height="1"/><rect x="250" y="371" width="1" height="1"/><rect x="251" y="373" width="2" height="2"/><rect x="251" y="374" width="1" height="1"/><rect x="252" y="376" width="2" height="2"/><rect x="252" y="378" width="1" height="1"/><rect x="251" y="379" width="1" height="1"/><rect x="250" y="382" width="1" height="1"/><rect x="255" y="379" width="1" height="1"/><rect x="248" y="370" width="1" height="1"/><rect x="247" y="369" width="1" height="1"/><rect x="244" y="368" width="1" height="1"/><rect x="244" y="369" width="1" height="1"/><rect x="235" y="381" width="1" height="1"/><rect x="236" y="381" width="1" height="1"/><rect x="233" y="381" width="1" height="1"/><rect x="142" y="319" width="2" height="2"/><rect x="137" y="329" width="1" height="1"/><rect x="175" y="334" width="1" height="1"/><rect x="207" y="335" width="1" height="1"/><rect x="130" y="345" width="1" height="1"/><rect x="145" y="367" width="1" height="1"/><rect x="209" y="349" width="1" height="1"/><rect x="36" y="394" width="1" height="1"/><rect x="46" y="402" width="2" height="2"/><rect x="321" y="324" width="1" height="1"/><rect x="324" y="324" width="1" height="1"/><rect x="328" y="326" width="2" height="2"/><rect x="315" y="323" width="1" height="1"/><rect x="346" y="337" width="1" height="1"/><rect x="347" y="347" width="2" height="2"/><rect x="349" y="347" width="1" height="1"/><rect x="352" y="346" width="1" height="1"/><rect x="353" y="345" width="1" height="1"/><rect x="344" y="346" width="1" height="1"/><rect x="329" y="371" width="1" height="1"/><rect x="330" y="372" width="1" height="1"/><rect x="332" y="375" width="2" height="2"/><rect x="333" y="373" width="1" height="1"/><rect x="330" y="376" width="1" height="1"/><rect x="539" y="399" width="1" height="1"/><rect x="538" y="401" width="1" height="1"/><rect x="539" y="403" width="1" height="1"/><rect x="538" y="406" width="1" height="1"/><rect x="538" y="396" width="1" height="1"/><rect x="538" y="393" width="1" height="1"/><rect x="538" y="390" width="1" height="1"/><rect x="537" y="386" width="1" height="1"/><rect x="537" y="383" width="1" height="1"/><rect x="539" y="385" width="1" height="1"/><rect x="536" y="383" width="1" height="1"/><rect x="582" y="392" width="1" height="1"/><rect x="581" y="390" width="1" height="1"/><rect x="580" y="388" width="1" height="1"/><rect x="579" y="385" width="1" height="1"/><rect x="658" y="347" width="1" height="1"/><rect x="657" y="348" width="1" height="1"/><rect x="655" y="351" width="2" height="2"/><rect x="653" y="351" width="1" height="1"/><rect x="649" y="354" width="1" height="1"/><rect x="647" y="355" width="1" height="1"/><rect x="646" y="355" width="1" height="1"/><rect x="660" y="342" width="1" height="1"/><rect x="662" y="341" width="1" height="1"/><rect x="711" y="355" width="1" height="1"/><rect x="693" y="369" width="1" height="1"/><rect x="693" y="372" width="1" height="1"/><rect x="693" y="375" width="1" height="1"/><rect x="692" y="377" width="1" height="1"/><rect x="691" y="379" width="1" height="1"/><rect x="669" y="391" width="1" height="1"/><rect x="677" y="387" width="1" height="1"/><rect x="706" y="392" width="1" height="1"/><rect x="710" y="394" width="1" height="1"/><rect x="720" y="393" width="2" height="2"/><rect x="730" y="396" width="1" height="1"/><rect x="738" y="366" width="1" height="1"/><rect x="740" y="389" width="1" height="1"/><rect x="742" y="391" width="1" height="1"/><rect x="747" y="392" width="2" height="2"/><rect x="744" y="383" width="1" height="1"/><rect x="737" y="383" width="1" height="1"/><rect x="743" y="387" width="1" height="1"/><rect x="745" y="394" width="1" height="1"/><rect x="751" y="404" width="1" height="1"/><rect x="751" y="401" width="1" height="1"/><rect x="685" y="349" width="1" height="1"/><rect x="684" y="354" width="1" height="1"/><rect x="680" y="336" width="1" height="1"/><rect x="679" y="333" width="1" height="1"/></g>
</g>
<g id="specks" shape-rendering="crispEdges">
<rect x="484" y="289" width="2" height="1" fill="#ffd8ff"/><rect x="487" y="290" width="2" height="2" fill="#ffc8ff"/>
<rect x="489" y="292" width="2" height="2" fill="#f9a8ff"/><rect x="480" y="295" width="3" height="1" fill="#ffd8ff"/>
<rect x="485" y="293" width="2" height="1" fill="#ffe4ff"/><rect x="511" y="286" width="2" height="2" fill="#f49cf8"/>
<rect x="513" y="288" width="2" height="1" fill="#ffc8ff"/><rect x="508" y="289" width="2" height="1" fill="#f088f0"/>
<rect x="509" y="290" width="1" height="1" fill="#ffd8ff"/>
</g>
<g id="star" stroke="#000" stroke-width="1" fill="none">
<path d="M72.5 245V268M61 256.5H84M61 245L84 268M84 245L61 268"/>
</g>
<g id="maplabels">
<text x="4" y="278" class="ml" textLength="10.5" lengthAdjust="spacingAndGlyphs">1</text>
<text x="738.7" y="308" class="ml" textLength="10.5" lengthAdjust="spacingAndGlyphs">2</text>
<text x="682.5" y="316" class="ml" textLength="10.5" lengthAdjust="spacingAndGlyphs">3</text>
<text x="631.3" y="295" class="ml" textLength="10.5" lengthAdjust="spacingAndGlyphs">4</text>
<text x="582.8" y="281.3" class="ml" textLength="10.5" lengthAdjust="spacingAndGlyphs">5</text>
<text x="564.2" y="280.8" class="ml" textLength="10.5" lengthAdjust="spacingAndGlyphs">6</text>
<text x="532" y="274.2" class="ml" textLength="10.5" lengthAdjust="spacingAndGlyphs">7</text>
<text x="504.8" y="271.4" class="ml" textLength="10.5" lengthAdjust="spacingAndGlyphs">8</text>
<text x="497" y="270" class="ml" textLength="10.5" lengthAdjust="spacingAndGlyphs">9</text>
<text x="488" y="268" class="ml" textLength="21" lengthAdjust="spacingAndGlyphs">10</text>
<text x="481" y="266" class="ml" textLength="21" lengthAdjust="spacingAndGlyphs">11</text>
<text x="471.4" y="263.6" class="ml" textLength="21" lengthAdjust="spacingAndGlyphs">12</text>
<text x="454.7" y="260" class="ml" textLength="21" lengthAdjust="spacingAndGlyphs">13</text>
<text x="432.5" y="257.4" class="ml" textLength="21" lengthAdjust="spacingAndGlyphs">14</text>
<text x="419.3" y="254.6" class="ml" textLength="21" lengthAdjust="spacingAndGlyphs">15</text>
<text x="400.7" y="250.5" class="ml" textLength="21" lengthAdjust="spacingAndGlyphs">16</text>
<text x="388" y="251.5" class="ml" textLength="21" lengthAdjust="spacingAndGlyphs">17</text>
<text x="384.5" y="249.3" class="ml" textLength="21" lengthAdjust="spacingAndGlyphs">18</text>
<text x="381" y="247.2" class="ml" textLength="21" lengthAdjust="spacingAndGlyphs">19</text>
<text x="373.7" y="245.8" class="ml" textLength="21" lengthAdjust="spacingAndGlyphs">20</text>
</g>
<rect x="0.5" y="215.5" width="766" height="190.5" fill="none" stroke="#000" stroke-width="1" shape-rendering="crispEdges"/>
</g>
<g id="colorbar">
<rect x="38.00" y="514" width="11.30" height="20" fill="#ffffff" shape-rendering="crispEdges"/>
<rect x="48.70" y="514" width="11.30" height="20" fill="#fff0ff" shape-rendering="crispEdges"/>
<rect x="59.39" y="514" width="11.30" height="20" fill="#ffe2ff" shape-rendering="crispEdges"/>
<rect x="70.09" y="514" width="11.30" height="20" fill="#fdd4ff" shape-rendering="crispEdges"/>
<rect x="80.79" y="514" width="11.30" height="20" fill="#fbc4ff" shape-rendering="crispEdges"/>
<rect x="91.48" y="514" width="11.30" height="20" fill="#f7b0ff" shape-rendering="crispEdges"/>
<rect x="102.18" y="514" width="11.30" height="20" fill="#ee90ff" shape-rendering="crispEdges"/>
<rect x="112.88" y="514" width="11.30" height="20" fill="#e070ff" shape-rendering="crispEdges"/>
<rect x="123.58" y="514" width="11.30" height="20" fill="#d040ff" shape-rendering="crispEdges"/>
<rect x="134.27" y="514" width="11.30" height="20" fill="#c010ff" shape-rendering="crispEdges"/>
<rect x="144.97" y="514" width="11.30" height="20" fill="#b400ff" shape-rendering="crispEdges"/>
<rect x="155.67" y="514" width="11.30" height="20" fill="#a800ff" shape-rendering="crispEdges"/>
<rect x="166.36" y="514" width="11.30" height="20" fill="#8800ff" shape-rendering="crispEdges"/>
<rect x="177.06" y="514" width="11.30" height="20" fill="#6800ff" shape-rendering="crispEdges"/>
<rect x="187.76" y="514" width="11.30" height="20" fill="#5000ff" shape-rendering="crispEdges"/>
<rect x="198.45" y="514" width="11.30" height="20" fill="#3000ff" shape-rendering="crispEdges"/>
<rect x="209.15" y="514" width="11.30" height="20" fill="#1000ff" shape-rendering="crispEdges"/>
<rect x="219.85" y="514" width="11.30" height="20" fill="#0038ff" shape-rendering="crispEdges"/>
<rect x="230.55" y="514" width="11.30" height="20" fill="#0068ff" shape-rendering="crispEdges"/>
<rect x="241.24" y="514" width="11.30" height="20" fill="#0084ff" shape-rendering="crispEdges"/>
<rect x="251.94" y="514" width="11.30" height="20" fill="#0098ff" shape-rendering="crispEdges"/>
<rect x="262.64" y="514" width="11.30" height="20" fill="#00a8ff" shape-rendering="crispEdges"/>
<rect x="273.33" y="514" width="11.30" height="20" fill="#00bcff" shape-rendering="crispEdges"/>
<rect x="284.03" y="514" width="11.30" height="20" fill="#00d0ff" shape-rendering="crispEdges"/>
<rect x="294.73" y="514" width="11.30" height="20" fill="#00f0ff" shape-rendering="crispEdges"/>
<rect x="305.42" y="514" width="11.30" height="20" fill="#00fff4" shape-rendering="crispEdges"/>
<rect x="316.12" y="514" width="11.30" height="20" fill="#00ffe4" shape-rendering="crispEdges"/>
<rect x="326.82" y="514" width="11.30" height="20" fill="#00ffd4" shape-rendering="crispEdges"/>
<rect x="337.52" y="514" width="11.30" height="20" fill="#00ffc4" shape-rendering="crispEdges"/>
<rect x="348.21" y="514" width="11.30" height="20" fill="#00ffac" shape-rendering="crispEdges"/>
<rect x="358.91" y="514" width="11.30" height="20" fill="#00ff84" shape-rendering="crispEdges"/>
<rect x="369.61" y="514" width="11.30" height="20" fill="#00ff64" shape-rendering="crispEdges"/>
<rect x="380.30" y="514" width="11.30" height="20" fill="#00ff44" shape-rendering="crispEdges"/>
<rect x="391.00" y="514" width="11.30" height="20" fill="#00ff00" shape-rendering="crispEdges"/>
<rect x="401.70" y="514" width="11.30" height="20" fill="#48ff00" shape-rendering="crispEdges"/>
<rect x="412.39" y="514" width="11.30" height="20" fill="#84ff00" shape-rendering="crispEdges"/>
<rect x="423.09" y="514" width="11.30" height="20" fill="#a4ff00" shape-rendering="crispEdges"/>
<rect x="433.79" y="514" width="11.30" height="20" fill="#b8ff00" shape-rendering="crispEdges"/>
<rect x="444.48" y="514" width="11.30" height="20" fill="#c8ff00" shape-rendering="crispEdges"/>
<rect x="455.18" y="514" width="11.30" height="20" fill="#d8ff00" shape-rendering="crispEdges"/>
<rect x="465.88" y="514" width="11.30" height="20" fill="#e8ff00" shape-rendering="crispEdges"/>
<rect x="476.58" y="514" width="11.30" height="20" fill="#ffff00" shape-rendering="crispEdges"/>
<rect x="487.27" y="514" width="11.30" height="20" fill="#fff000" shape-rendering="crispEdges"/>
<rect x="497.97" y="514" width="11.30" height="20" fill="#ffe000" shape-rendering="crispEdges"/>
<rect x="508.67" y="514" width="11.30" height="20" fill="#ffd400" shape-rendering="crispEdges"/>
<rect x="519.36" y="514" width="11.30" height="20" fill="#ffc800" shape-rendering="crispEdges"/>
<rect x="530.06" y="514" width="11.30" height="20" fill="#ffb800" shape-rendering="crispEdges"/>
<rect x="540.76" y="514" width="11.30" height="20" fill="#ffa800" shape-rendering="crispEdges"/>
<rect x="551.45" y="514" width="11.30" height="20" fill="#ff9000" shape-rendering="crispEdges"/>
<rect x="562.15" y="514" width="11.30" height="20" fill="#ff7800" shape-rendering="crispEdges"/>
<rect x="572.85" y="514" width="11.30" height="20" fill="#ff5800" shape-rendering="crispEdges"/>
<rect x="583.55" y="514" width="11.30" height="20" fill="#ff2800" shape-rendering="crispEdges"/>
<rect x="594.24" y="514" width="11.30" height="20" fill="#ff0040" shape-rendering="crispEdges"/>
<rect x="604.94" y="514" width="11.30" height="20" fill="#ff0054" shape-rendering="crispEdges"/>
<rect x="615.64" y="514" width="11.30" height="20" fill="#ff0064" shape-rendering="crispEdges"/>
<rect x="626.33" y="514" width="11.30" height="20" fill="#ff0074" shape-rendering="crispEdges"/>
<rect x="637.03" y="514" width="11.30" height="20" fill="#ff0084" shape-rendering="crispEdges"/>
<rect x="647.73" y="514" width="11.30" height="20" fill="#ff0094" shape-rendering="crispEdges"/>
<rect x="658.42" y="514" width="11.30" height="20" fill="#ff00a4" shape-rendering="crispEdges"/>
<rect x="669.12" y="514" width="11.30" height="20" fill="#f000ac" shape-rendering="crispEdges"/>
<rect x="679.82" y="514" width="11.30" height="20" fill="#d800a8" shape-rendering="crispEdges"/>
<rect x="690.52" y="514" width="11.30" height="20" fill="#c800a0" shape-rendering="crispEdges"/>
<rect x="701.21" y="514" width="11.30" height="20" fill="#b00098" shape-rendering="crispEdges"/>
<rect x="711.91" y="514" width="11.30" height="20" fill="#980088" shape-rendering="crispEdges"/>
<rect x="722.61" y="514" width="11.30" height="20" fill="#800070" shape-rendering="crispEdges"/>
<rect x="733.30" y="514" width="11.30" height="20" fill="#600058" shape-rendering="crispEdges"/>
<line x1="102.2" y1="514" x2="102.2" y2="534" stroke="#000" stroke-width="2"/>
<line x1="166.4" y1="514" x2="166.4" y2="534" stroke="#000" stroke-width="2"/>
<line x1="230.5" y1="514" x2="230.5" y2="534" stroke="#000" stroke-width="2"/>
<line x1="294.7" y1="514" x2="294.7" y2="534" stroke="#000" stroke-width="2"/>
<line x1="358.9" y1="514" x2="358.9" y2="534" stroke="#000" stroke-width="2"/>
<line x1="423.1" y1="514" x2="423.1" y2="534" stroke="#000" stroke-width="2"/>
<line x1="487.3" y1="514" x2="487.3" y2="534" stroke="#000" stroke-width="2"/>
<line x1="551.5" y1="514" x2="551.5" y2="534" stroke="#000" stroke-width="2"/>
<line x1="615.6" y1="514" x2="615.6" y2="534" stroke="#000" stroke-width="2"/>
<line x1="679.8" y1="514" x2="679.8" y2="534" stroke="#000" stroke-width="2"/>
<rect x="38" y="513.75" width="706" height="20.25" fill="none" stroke="#000" stroke-width="2"/>
<text x="24.5" y="554" text-anchor="middle" class="b15" textLength="34.6" lengthAdjust="spacingAndGlyphs">0.00</text>
<text x="104.2" y="554" text-anchor="middle" class="b15" textLength="34.6" lengthAdjust="spacingAndGlyphs">0.02</text>
<text x="168.7" y="554" text-anchor="middle" class="b15" textLength="34.6" lengthAdjust="spacingAndGlyphs">0.04</text>
<text x="233" y="554" text-anchor="middle" class="b15" textLength="34.6" lengthAdjust="spacingAndGlyphs">0.08</text>
<text x="297" y="554" text-anchor="middle" class="b15" textLength="34.6" lengthAdjust="spacingAndGlyphs">0.16</text>
<text x="360.5" y="554" text-anchor="middle" class="b15" textLength="34.6" lengthAdjust="spacingAndGlyphs">0.31</text>
<text x="425.7" y="554" text-anchor="middle" class="b15" textLength="34.6" lengthAdjust="spacingAndGlyphs">0.63</text>
<text x="490" y="554" text-anchor="middle" class="b15" textLength="34.6" lengthAdjust="spacingAndGlyphs">1.25</text>
<text x="553.1" y="554" text-anchor="middle" class="b15" textLength="34.6" lengthAdjust="spacingAndGlyphs">2.50</text>
<text x="618" y="554" text-anchor="middle" class="b15" textLength="34.6" lengthAdjust="spacingAndGlyphs">5.00</text>
<text x="679.7" y="554" text-anchor="middle" class="b15" textLength="43" lengthAdjust="spacingAndGlyphs">10.00</text>
<text x="735" y="554" text-anchor="middle" class="b15" textLength="43" lengthAdjust="spacingAndGlyphs">20.00</text>
</g>
<g id="bottom">
<text x="305.9" y="580" class="r18" textLength="155.7" lengthAdjust="spacingAndGlyphs" xml:space="preserve">10E-10 ppbv / m2</text>
<text x="64.3" y="611" class="r18" textLength="330.8" lengthAdjust="spacingAndGlyphs" xml:space="preserve">Maximum value  0.264E-11 ppbv / m2</text>
<text x="434.9" y="611" class="r18" textLength="149.2" lengthAdjust="spacingAndGlyphs" xml:space="preserve">Total mixing ratio</text>
<text x="626.5" y="611" class="r18" textLength="73.7" lengthAdjust="spacingAndGlyphs" xml:space="preserve">0.4 ppbv</text>
<text x="80.3" y="633" class="r15" textLength="72.7" lengthAdjust="spacingAndGlyphs" xml:space="preserve">American</text>
<text x="189.8" y="633" class="r15" textLength="66.7" lengthAdjust="spacingAndGlyphs" xml:space="preserve">0.0 ppbv</text>
<text x="308.3" y="633" class="r15" textLength="75.2" lengthAdjust="spacingAndGlyphs" xml:space="preserve">European</text>
<text x="421.3" y="633" class="r15" textLength="65.2" lengthAdjust="spacingAndGlyphs" xml:space="preserve">0.3 ppbv</text>
<text x="539.5" y="633" class="r15" textLength="43.0" lengthAdjust="spacingAndGlyphs" xml:space="preserve">Asian</text>
<text x="620.3" y="633" class="r15" textLength="65.7" lengthAdjust="spacingAndGlyphs" xml:space="preserve">0.1 ppbv</text>
<text x="48.8" y="656" class="r15" textLength="122.7" lengthAdjust="spacingAndGlyphs" xml:space="preserve">South American</text>
<text x="209.3" y="656" class="r15" textLength="64.7" lengthAdjust="spacingAndGlyphs" xml:space="preserve">0.0 ppbv</text>
<text x="328.2" y="656" class="r15" textLength="52.3" lengthAdjust="spacingAndGlyphs" xml:space="preserve">African</text>
<text x="418.8" y="656" class="r15" textLength="65.2" lengthAdjust="spacingAndGlyphs" xml:space="preserve">0.0 ppbv</text>
<text x="537.7" y="656" class="r15" textLength="76.3" lengthAdjust="spacingAndGlyphs" xml:space="preserve">Australian</text>
<text x="651.5" y="656" class="r15" textLength="65.7" lengthAdjust="spacingAndGlyphs" xml:space="preserve">0.0 ppbv</text>
</g>
</svg>
</body></html>
